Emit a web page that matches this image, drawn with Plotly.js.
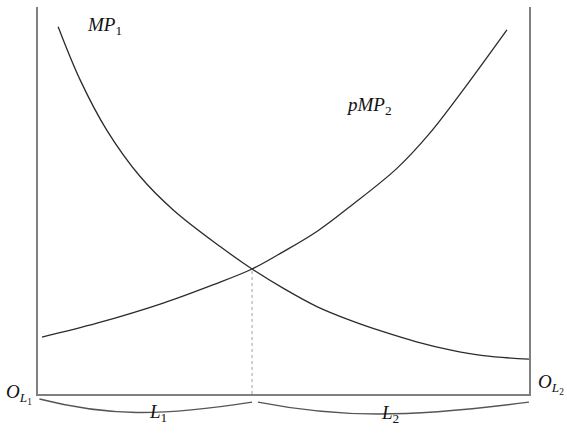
<!DOCTYPE html>
<html>
<head>
<meta charset="utf-8">
<script src="https://cdn.plot.ly/plotly-3.0.1.min.js"></script>
<style>
  html, body { margin: 0; padding: 0; background: #fff; }
  #chart { width: 567px; height: 439px; }
</style>
</head>
<body>
<div id="chart"></div>
<script>
// labour axis runs 0..100 from O_L1 to O_L2; y is marginal product (arbitrary units)
const mp1X = [4.1, 8.6, 14.0, 20.8, 27.6, 37.1, 43.6, 50.0, 56.8, 63.5, 70.3, 77.1, 83.9, 90.7, 100];
const mp1Y = [94.9, 81.1, 68.2, 56.2, 47.5, 38.1, 32.3, 27.3, 22.6, 19.1, 16.1, 13.5, 11.4, 9.9, 9.0];

const pmp2X = [0.8, 12.0, 25.5, 35.6, 43.6, 50.0, 56.8, 63.5, 73.1, 79.8, 86.6, 95.5];
const pmp2Y = [14.7, 18.3, 23.5, 28.2, 32.3, 36.8, 42.0, 48.4, 58.3, 67.4, 78.6, 94.1];

// equilibrium allocation where the two curves cross
const eqX = 43.6;
const eqY = 32.3;

const SERIF = 'Liberation Serif';
const CURVE = '#2b2b2b';
const AXIS = '#808080';

function curve(x, y) {
  return {
    type: 'scatter',
    mode: 'lines',
    x,
    y,
    line: { color: CURVE, width: 1.3, shape: 'spline', smoothing: 1 },
    hoverinfo: 'skip',
    showlegend: false
  };
}

const traces = [
  curve(mp1X, mp1Y),
  curve(pmp2X, pmp2Y),
  {
    type: 'scatter',
    mode: 'lines',
    x: [eqX, eqX],
    y: [0, eqY],
    line: { color: '#a0a0a0', width: 1, dash: 'dot' },
    hoverinfo: 'skip',
    showlegend: false
  }
];

// brace under an interval [a, b] of the labour axis, drawn in paper coords
function brace(a, b, yA, yB, yLow, lean) {
  const x0 = a / 100;
  const x1 = b / 100;
  const w = x1 - x0;
  return {
    type: 'path',
    xref: 'paper',
    yref: 'paper',
    path: `M ${x0},${yA} C ${x0 + w * lean},${yLow} ${x1 - w * (0.75 - lean)},${yLow} ${x1},${yB}`,
    line: { color: '#555', width: 1.4 }
  };
}

function label(text, x, y, xref, yref, extra = {}) {
  return Object.assign({
    text,
    x,
    y,
    xref,
    yref,
    showarrow: false,
    font: { family: SERIF, size: 19, color: '#111' }
  }, extra);
}

const layout = {
  width: 567,
  height: 439,
  font: { family: SERIF, size: 19, color: '#111' },
  paper_bgcolor: '#fff',
  plot_bgcolor: '#fff',
  margin: { l: 38, r: 38, t: 7, b: 45 },
  showlegend: false,
  xaxis: {
    range: [0, 100],
    showgrid: false,
    zeroline: false,
    showticklabels: false,
    ticks: '',
    showline: true,
    linecolor: AXIS,
    linewidth: 2,
    fixedrange: true
  },
  yaxis: {
    range: [0, 100],
    showgrid: false,
    zeroline: false,
    showticklabels: false,
    ticks: '',
    showline: true,
    mirror: true,
    linecolor: AXIS,
    linewidth: 2,
    fixedrange: true
  },
  shapes: [
    brace(0.3, eqX, -0.013, -0.021, -0.058, 0.32),
    brace(eqX + 1.2, 100, -0.021, -0.021, -0.062, 0.3)
  ],
  annotations: [
    label('<i>MP</i><sub>1</sub>', 13.6, 95, 'x', 'y'),
    label('<i>pMP</i><sub>2</sub>', 67.4, 74.4, 'x', 'y'),
    label('<i>L</i><sub>1</sub>', 0.222, -0.085, 'paper', 'paper'),
    label('<i>L</i><sub>2</sub>', 0.739, -0.088, 'paper', 'paper'),
    label('<i>O</i><sub><i>L</i><sub>1</sub></sub>', -0.008, 0.0, 'paper', 'paper',
      { xanchor: 'right', yanchor: 'middle' }),
    label('<i>O</i><sub><i>L</i><sub>2</sub></sub>', 1.014, 0.025, 'paper', 'paper',
      { xanchor: 'left', yanchor: 'middle' })
  ]
};

Plotly.newPlot('chart', traces, layout, { displayModeBar: false, staticPlot: true });
</script>
</body>
</html>
